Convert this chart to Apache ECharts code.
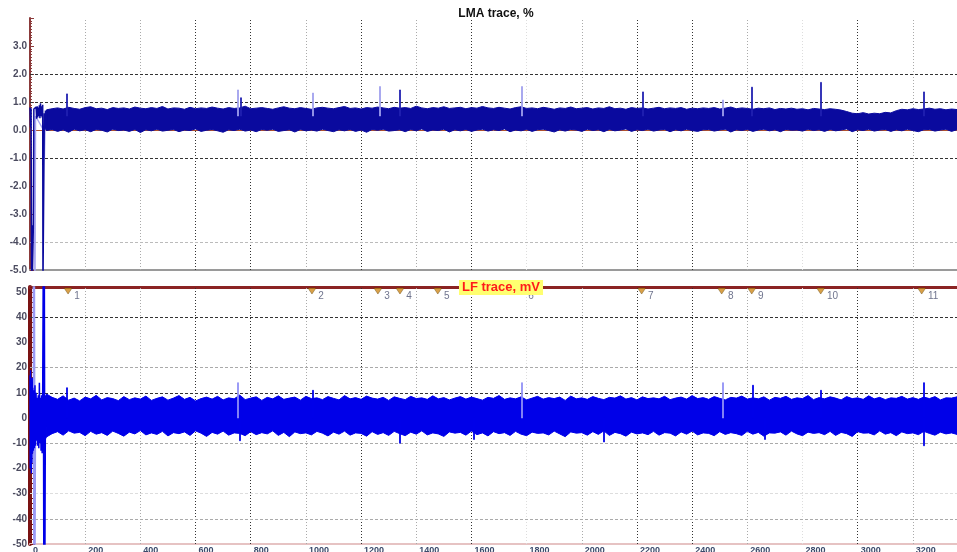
<!DOCTYPE html>
<html><head><meta charset="utf-8">
<script src="https://cdn.jsdelivr.net/npm/echarts@6/dist/echarts.min.js"></script>
<style>html,body{margin:0;padding:0;background:#fff}#c{width:957px;height:552px}</style>
</head><body><div id="c"></div>
<script>
// ---------- data ----------
const xMin = 0, xMax = 3360, xStep = 200;
const envStart = 60, envStep = 20;   // sampling grid of the envelopes

// LMA trace (%): upper / lower envelope of the dense signal
const lmaHi = [0.72,0.76,0.79,0.75,0.81,0.77,0.74,0.80,0.83,0.76,
 0.78,0.73,0.80,0.77,0.79,0.75,0.82,0.78,0.76,0.80,
 0.77,0.84,0.75,0.79,0.78,0.74,0.81,0.76,0.79,0.77,
 0.82,0.78,0.75,0.80,0.77,0.79,0.85,0.76,0.78,0.80,
 0.77,0.74,0.79,0.83,0.78,0.76,0.80,0.77,0.74,0.79,
 0.81,0.78,0.76,0.80,0.84,0.77,0.79,0.75,0.80,0.78,
 0.82,0.79,0.76,0.81,0.78,0.80,0.77,0.85,0.79,0.76,
 0.80,0.78,0.83,0.77,0.79,0.81,0.76,0.80,0.78,0.84,
 0.79,0.77,0.81,0.78,0.75,0.80,0.83,0.77,0.79,0.76,
 0.81,0.78,0.74,0.79,0.77,0.82,0.76,0.78,0.80,0.75,
 0.79,0.77,0.83,0.76,0.78,0.74,0.80,0.77,0.79,0.75,
 0.78,0.81,0.76,0.79,0.77,0.80,0.74,0.78,0.76,0.79,
 0.77,0.80,0.75,0.78,0.82,0.76,0.79,0.77,0.74,0.78,
 0.76,0.79,0.73,0.77,0.75,0.78,0.74,0.76,0.72,0.77,
 0.75,0.73,0.76,0.74,0.71,0.66,0.60,0.58,0.62,0.57,
 0.60,0.58,0.63,0.61,0.69,0.74,0.72,0.76,0.73,0.75,
 0.78,0.74,0.76,0.72,0.75,0.73];
const lmaLo = [-0.02,0.02,-0.05,0.01,-0.08,0.03,-0.03,0.01,-0.06,0.02,
 -0.01,-0.07,0.03,-0.02,0.00,-0.05,0.02,-0.09,0.01,-0.03,
 0.03,-0.04,-0.01,0.02,-0.06,0.00,-0.02,0.04,-0.05,-0.01,
 0.02,-0.03,-0.08,0.01,-0.02,0.03,-0.04,0.00,-0.06,0.02,
 -0.01,0.03,-0.05,-0.02,0.01,-0.07,0.02,-0.03,0.00,-0.04,
 0.03,-0.02,-0.06,0.01,-0.03,0.02,-0.05,0.00,-0.08,0.02,
 -0.01,0.03,-0.04,-0.02,0.01,-0.06,0.02,-0.03,0.04,-0.05,
 0.00,-0.02,0.03,-0.07,0.01,-0.03,0.02,-0.05,0.00,0.03,
 -0.04,0.01,-0.02,0.04,-0.06,0.00,-0.03,0.02,-0.05,0.01,
 0.03,-0.02,-0.07,0.01,-0.04,0.02,0.00,-0.05,0.03,-0.02,
 0.01,-0.06,0.02,-0.03,0.00,0.04,-0.05,0.01,-0.02,0.03,
 -0.04,0.00,0.02,-0.06,0.01,-0.03,0.03,-0.02,-0.05,0.01,
 0.02,-0.04,0.00,0.03,-0.07,0.01,-0.02,0.02,-0.05,0.00,
 0.03,-0.03,0.01,-0.06,0.02,-0.01,0.00,-0.04,0.03,-0.02,
 0.01,-0.05,0.02,-0.03,0.00,0.04,-0.06,0.01,-0.02,0.03,
 -0.04,0.00,0.02,-0.05,0.01,-0.03,0.03,-0.02,-0.06,0.01,
 0.02,-0.04,0.00,0.03,-0.05,0.01];
// LMA start-up transient
const lmaStartX = [0,2,4,5,6,7,8,10,12,14,22,24,26,28,30,32,34,36,38,40,42,44,46,47,48,50,52,54,56,58,60];
const lmaStartY = [0.8,0.1,0.78,-3.3,-5.6,-3.4,-5.6,-5.6,-3.5,0.75,0.82,0.4,0.85,0.45,0.8,0.5,0.88,0.42,0.95,0.5,0.85,0.45,0.9,-5.6,-5.6,-5.6,0.6,0.05,0.7,0.0,0.7];
const lmaStartLightX = [14,16,18,20,49,52,55];
const lmaStartLightY = [0.0,-2.0,-5.6,0.5,0.0,-1.0,0.3];
// LMA spikes
const lmaSpikeDarkX = [134,765,1341,2221,2616,2866,3239];
const lmaSpikeDarkV = [1.29,1.15,1.43,1.36,1.53,1.70,1.36];
const lmaSpikeLightX = [754,1025,1268,1783,2511];
const lmaSpikeLightV = [1.43,1.32,1.55,1.55,1.07];

// LF trace (mV)
const lfHi = [9.5,8.2,7.4,8.8,7.1,7.9,6.8,8.3,7.6,9.0,
 7.2,8.1,7.7,6.9,8.5,7.3,8.0,7.5,8.7,7.0,
 7.8,8.4,7.1,7.9,8.9,7.4,8.2,6.8,7.7,8.3,
 7.5,8.6,7.2,8.0,7.6,9.1,7.3,7.9,8.4,7.0,
 8.2,7.6,8.8,7.4,7.9,8.3,7.1,8.6,7.7,8.0,
 7.3,8.5,7.8,7.2,8.9,7.6,8.1,7.4,8.7,7.9,
 7.5,8.2,7.0,8.4,7.8,7.3,8.6,7.7,8.0,7.4,
 8.8,7.6,8.1,7.2,7.9,8.5,7.5,8.3,7.7,7.1,
 8.2,7.8,8.9,7.4,8.0,7.6,8.4,7.2,7.9,8.6,
 7.5,8.1,7.7,8.3,7.0,8.7,7.6,8.0,7.4,8.5,
 7.8,7.3,8.2,7.9,8.8,7.5,8.1,7.2,8.4,7.7,
 8.0,7.6,8.6,7.3,7.9,8.3,7.5,8.9,7.7,8.1,
 7.4,8.5,7.8,7.2,8.2,7.9,8.7,7.5,8.0,7.6,
 8.4,7.1,8.2,7.8,8.6,7.4,8.0,7.7,8.9,7.3,
 8.1,7.6,8.4,7.9,7.2,8.5,7.7,8.0,7.4,8.8,
 7.6,8.2,7.3,8.0,7.8,8.6,7.5,8.1,7.4,8.3,
 7.7,8.5,7.2,8.0,7.9,8.4];
const lfLo = [-7.5,-6.2,-5.4,-6.8,-5.1,-6.0,-5.7,-7.0,-5.3,-6.4,
 -5.8,-6.9,-5.2,-6.1,-7.2,-5.6,-6.3,-5.0,-6.7,-5.9,
 -6.5,-5.3,-7.1,-5.8,-6.2,-5.5,-6.9,-5.1,-6.0,-7.3,
 -5.7,-6.4,-5.2,-6.8,-5.9,-6.1,-7.0,-5.4,-6.6,-5.8,
 -6.3,-5.1,-6.9,-5.7,-7.4,-5.5,-6.2,-5.9,-6.7,-5.3,
 -6.0,-7.1,-5.6,-6.4,-5.2,-6.8,-5.9,-6.1,-7.2,-5.4,
 -6.5,-5.8,-6.9,-5.3,-6.2,-7.0,-5.6,-6.4,-5.1,-6.7,
 -5.9,-6.3,-7.3,-5.5,-6.0,-5.7,-6.8,-5.2,-6.6,-5.9,
 -7.1,-5.4,-6.2,-5.8,-6.9,-5.3,-6.4,-7.0,-5.6,-6.1,
 -5.9,-6.7,-5.2,-6.3,-7.4,-5.5,-6.0,-5.8,-6.8,-5.4,
 -6.5,-5.1,-6.9,-5.7,-6.2,-7.2,-5.6,-6.3,-5.9,-6.6,
 -5.3,-6.8,-5.8,-6.0,-7.1,-5.5,-6.4,-5.2,-6.7,-5.9,
 -6.1,-7.0,-5.4,-6.5,-5.8,-6.2,-6.9,-5.3,-6.4,-5.7,
 -7.2,-5.9,-6.0,-5.5,-6.8,-5.2,-6.3,-7.0,-5.6,-6.1,
 -5.8,-6.6,-5.3,-6.9,-5.7,-6.2,-7.3,-5.4,-6.0,-5.9,
 -6.7,-5.1,-6.4,-5.8,-7.0,-5.5,-6.2,-5.9,-6.6,-5.3,
 -6.1,-6.8,-5.6,-6.3,-5.9,-6.5];
const lfStartX = [0,1,2,3,4,5,6,7,8,9,10,12,14,16,18,20,22,24,26,28,30,32,34,36,38,40,42,44,46,48,50,52,54,56,58,60];
const lfStartY = [17,-20,19,-16,15,-22,13,-18,16,-14,12,-13,11,-12,13,-11,10,-9,8,-11,9,-12,14,-10,8,-13,9,-14,11,60,-60,60,-60,9,-8,9];
const lfStartLightX = [12,14,16,18,20];
const lfStartLightY = [60,-60,60,-60,5];
const lfSpikeUpX = [134,1025,2620,2866,3239];
const lfSpikeUpV = [12,11,13,11,14];
const lfSpikeUpLightX = [754,1783,2511];
const lfSpikeUpLightV = [14,14,14];
const lfSpikeDownX = [761,1341,1609,2080,2663,3239];
const lfSpikeDownV = [-9,-10,-8.5,-9.5,-8.5,-11];

// event markers
const markerX = [138,1022,1261,1341,1478,1783,2217,2507,2616,2866,3232];
const markerLabels = ['1','2','3','4','5','6','7','8','9','10','11'];

// grid lines (axis values)
const vDark = [600,800,1200,1600,2200,2400,3000];
const vLight = [200,400,1000,1400,2000,2600,3200];
const vFaint = [1800,2800];
const topHDark = [-1,1,2];
const topHLight = [-4];
const botHDark = [40,10];
const botHLight = [20,-10,-40];
const botHFaint = [-30];

// ---------- chart ----------
const navy = '#0a0a9e', blue = '#0000e8';
const vl = (v, c) => ({xAxis: v, lineStyle: {color: c, type: [1, 2], width: 1}});
const hl = (v, c) => ({yAxis: v, lineStyle: {color: c, type: [3, 2], width: 1}});
const vLines = [...vDark.map(v => vl(v, '#333')), ...vLight.map(v => vl(v, '#aaa')), ...vFaint.map(v => vl(v, '#ddd'))];
const ml = data => ({silent: true, symbol: ['none', 'none'], label: {show: false}, z: 1, animation: false, data});
const candle = (color, bw, border) => ({
  type: 'candlestick', barWidth: bw, animation: false, silent: true, emphasis: {disabled: true},
  itemStyle: {color, color0: color, borderColor: color, borderColor0: color, borderWidth: border}
});
// envelope band drawn as one polygon through the axis scales
const band = (hi, lo, color, xi, yi) => ({
  type: 'custom', xAxisIndex: xi, yAxisIndex: yi, silent: true, animation: false, z: 2, clip: true,
  data: [0],
  renderItem: (params, api) => {
    const top = hi.map((h, i) => api.coord([envStart + i * envStep, h]));
    const bot = lo.map((l, i) => api.coord([envStart + i * envStep, l])).reverse();
    return {type: 'polygon', shape: {points: top.concat(bot)},
            style: {fill: color, stroke: color, lineWidth: 1}};
  }
});
const spikes = (xs, vs, base) => xs.map((x, i) => {
  const a = Math.min(base, vs[i]), b = Math.max(base, vs[i]);
  return [x, a, b, a, b];
});
const pts = (xs, ys) => xs.map((x, i) => [x, ys[i]]);
const lineS = (data, color, w, xi, yi) => ({
  type: 'line', data, xAxisIndex: xi, yAxisIndex: yi, symbol: 'none', silent: true,
  lineStyle: {color, width: w}, animation: false, z: 3
});

const xBase = {type: 'value', min: xMin, max: xMax, interval: xStep, splitLine: {show: false}, axisTick: {show: false}};
const chart = echarts.init(document.getElementById('c'), null, {renderer: 'canvas'});
chart.setOption({
  animation: false,
  textStyle: {fontFamily: 'Liberation Sans'},
  title: [
    {text: 'LMA trace, %', left: 496, top: 8, textAlign: 'center', padding: 0,
     textStyle: {fontSize: 12, fontWeight: 'bold', color: '#111', fontFamily: 'Liberation Sans'}},
    {text: 'LF trace, mV', left: 498, top: 280, textAlign: 'center', padding: [1, 3, 1, 3],
     backgroundColor: '#ffff70', z: 10,
     textStyle: {fontSize: 13, fontWeight: 'bold', color: '#ff1a1a', fontFamily: 'Liberation Sans'}}
  ],
  grid: [
    {left: 30, right: 0, top: 18, height: 252, containLabel: false, outerBoundsMode: 'none'},
    {left: 30, right: 0, top: 287, height: 257, containLabel: false, outerBoundsMode: 'none'}
  ],
  xAxis: [
    Object.assign({}, xBase, {gridIndex: 0, axisLabel: {show: false},
      axisLine: {onZero: false, lineStyle: {color: '#9a9a9a', width: 2}}}),
    Object.assign({}, xBase, {gridIndex: 1,
      axisLine: {onZero: false, lineStyle: {color: '#e6c3c3', width: 2}},
      axisLabel: {fontSize: 9, fontWeight: 'bold', color: '#3b4a6b', align: 'left', margin: 2,
        padding: [0, 0, 0, 3],
        formatter: v => (v % xStep === 0 && v <= 3200) ? String(v) : ''}}),
    Object.assign({}, xBase, {gridIndex: 1, position: 'top', axisLabel: {show: false},
      axisLine: {onZero: false, lineStyle: {color: '#8b2323', width: 3}}})
  ],
  yAxis: [
    {type: 'value', gridIndex: 0, min: -5, max: 4, interval: 1, splitLine: {show: false},
     axisLine: {show: true, onZero: false, lineStyle: {color: '#8b3a3a', width: 2}},
     axisTick: {show: true, inside: true, length: 4, lineStyle: {color: '#8b3a3a'}},
     minorTick: {show: true, splitNumber: 10, length: 2, lineStyle: {color: '#8b3a3a'}},
     axisLabel: {fontSize: 10, fontWeight: 'bold', color: '#4b4b5f', margin: 3,
       formatter: v => v >= 4 ? '' : v.toFixed(1)}},
    {type: 'value', gridIndex: 1, min: -50, max: 52, interval: 10, splitLine: {show: false},
     axisLine: {show: true, onZero: false, lineStyle: {color: '#7a1212', width: 4}},
     axisTick: {show: true, inside: true, length: 5, lineStyle: {color: '#7a1212'}},
     minorTick: {show: true, splitNumber: 5, length: 3, lineStyle: {color: '#7a1212'}},
     axisLabel: {fontSize: 10, fontWeight: 'bold', color: '#4b4b5f', margin: 3,
       formatter: v => (v % 10 === 0 && v <= 50) ? String(v) : ''}}
  ],
  series: [
    // top grid lines
    {type: 'line', xAxisIndex: 0, yAxisIndex: 0, data: [], silent: true,
     markLine: ml([...vLines, ...topHDark.map(v => hl(v, '#333')), ...topHLight.map(v => hl(v, '#bbb')),
       {yAxis: 0, lineStyle: {color: '#b0522d', type: 'solid', width: 1}}])},
    band(lmaHi, lmaLo, navy, 0, 0),
    lineS(pts(lmaStartLightX, lmaStartLightY), '#a8a8f0', 1.5, 0, 0),
    lineS(pts(lmaStartX, lmaStartY), navy, 1.5, 0, 0),
    Object.assign(candle('#a0a0ee', 1.5, 0.8), {xAxisIndex: 0, yAxisIndex: 0, data: spikes(lmaSpikeLightX, lmaSpikeLightV, 0.5), z: 2}),
    Object.assign(candle('#2020b0', 1.5, 0.8), {xAxisIndex: 0, yAxisIndex: 0, data: spikes(lmaSpikeDarkX, lmaSpikeDarkV, 0.5), z: 2}),
    // bottom grid lines
    {type: 'line', xAxisIndex: 1, yAxisIndex: 1, data: [], silent: true,
     markLine: ml([...vLines, ...botHDark.map(v => hl(v, '#333')), ...botHLight.map(v => hl(v, '#aaa')),
       ...botHFaint.map(v => hl(v, '#ddd'))])},
    band(lfHi, lfLo, blue, 1, 1),
    lineS(pts(lfStartLightX, lfStartLightY), '#9a9af5', 1.5, 1, 1),
    lineS(pts(lfStartX, lfStartY), blue, 1.5, 1, 1),
    Object.assign(candle('#9090f5', 1.5, 0.8), {xAxisIndex: 1, yAxisIndex: 1, data: spikes(lfSpikeUpLightX, lfSpikeUpLightV, 0), z: 2}),
    Object.assign(candle(blue, 1.5, 0.8), {xAxisIndex: 1, yAxisIndex: 1,
      data: spikes(lfSpikeUpX, lfSpikeUpV, 0).concat(spikes(lfSpikeDownX, lfSpikeDownV, 0)), z: 2}),
    // event markers
    {type: 'scatter', xAxisIndex: 1, yAxisIndex: 1, silent: true, animation: false, z: 5,
     data: markerX.map((x, i) => ({value: [x, 50.4], name: markerLabels[i]})),
     symbol: 'triangle', symbolRotate: 180, symbolSize: [8, 6],
     itemStyle: {color: '#d08a1a', borderColor: '#5a3a00', borderWidth: 0.5},
     label: {show: true, formatter: '{b}', position: 'right', offset: [-3, 5], fontSize: 10, color: '#4a5070'}}
  ]
});
</script>
</body></html>
